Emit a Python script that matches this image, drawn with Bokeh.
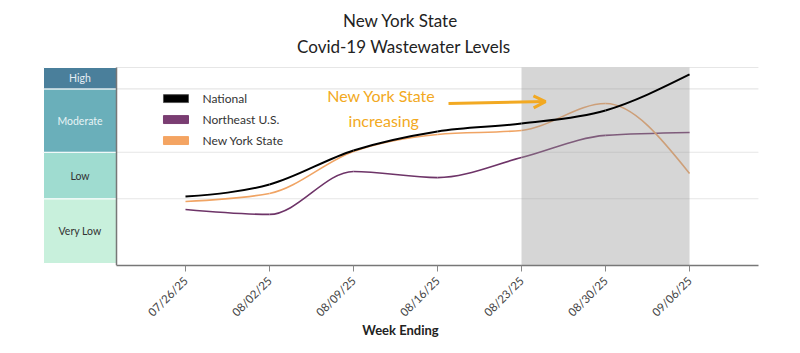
import numpy as np
from bokeh.plotting import figure
from bokeh.models import Range1d, FixedTicker, Arrow, OpenHead
from bokeh.core.properties import value
from bokeh.embed import file_html
from bokeh.resources import INLINE

# ---- data ----
weeks = ["07/26/25", "08/02/25", "08/09/25", "08/16/25", "08/23/25", "08/30/25", "09/06/25"]
national = [3.48, 4.09, 5.81, 6.77, 7.17, 7.83, 9.65]
northeast = [2.83, 2.58, 4.75, 4.44, 5.45, 6.57, 6.72]
nys = [3.23, 3.64, 5.76, 6.62, 6.82, 8.18, 4.65]
level_names = ["Very Low", "Low", "Moderate", "High"]
level_bounds = [0.1, 3.37, 5.72, 8.92, 10.0]
level_colors = ["#c8f0dc", "#9fdcd0", "#6aafba", "#4a7f9b"]
level_text_colors = ["#333333", "#333333", "#e8f4f6", "#e4edf3"]
grid_levels = [3.37, 5.72, 8.92, 10.0]
shade_start, shade_end = 4, 6

xi = list(range(len(weeks)))

X0, X1 = -2.202, 7.321
Y0, Y1 = 0.0, 13.384
AX_L, AX_R = -0.821, 6.82

p = figure(width=800, height=353, output_backend="svg", toolbar_location=None,
           x_range=Range1d(X0, X1), y_range=Range1d(Y0, Y1),
           y_axis_location=None, min_border_left=0, min_border_right=0,
           min_border_top=0, min_border_bottom=88)
p.outline_line_color = None
p.xgrid.visible = False
p.ygrid.visible = False
p.background_fill_color = "white"
p.border_fill_color = "white"

# gridlines
p.segment(x0=[AX_L] * len(grid_levels), y0=grid_levels, x1=[AX_R] * len(grid_levels),
          y1=grid_levels, line_color="#e6e6e6", line_width=1.2)

# level bands
band_l = X0 + (43 / 800) * (X1 - X0)
p.quad(left=[band_l] * 4, right=[AX_L] * 4, bottom=level_bounds[:-1], top=level_bounds[1:],
       fill_color=level_colors, line_color="white", line_width=1)
p.text(x=[(band_l + AX_L) / 2] * 4,
       y=[(level_bounds[i] + level_bounds[i + 1]) / 2 for i in range(4)],
       text=level_names, text_align="center", text_baseline="middle",
       text_font=value("Lato"), text_font_size="10.5px", text_color=level_text_colors)

# left axis line
p.segment(x0=[AX_L], y0=[0], x1=[AX_L], y1=[10.0], line_color="#777777", line_width=1.5)


def monotone_bezier(xs, ys):
    xs = np.asarray(xs, float)
    ys = np.asarray(ys, float)
    n = len(xs)
    h = np.diff(xs)
    s = np.diff(ys) / h
    t = np.zeros(n)
    for i in range(1, n - 1):
        h0, h1 = h[i - 1], h[i]
        s0, s1 = s[i - 1], s[i]
        pp = (s0 * h1 + s1 * h0) / (h0 + h1)
        t[i] = (np.sign(s0) + np.sign(s1)) * min(abs(s0), abs(s1), 0.5 * abs(pp))
    t[0] = (3 * s[0] - t[1]) / 2
    t[-1] = (3 * s[-1] - t[-2]) / 2
    x0 = xs[:-1]
    x1 = xs[1:]
    y0 = ys[:-1]
    y1 = ys[1:]
    cx0 = x0 + h / 3
    cy0 = y0 + h / 3 * t[:-1]
    cx1 = x1 - h / 3
    cy1 = y1 - h / 3 * t[1:]
    return dict(x0=x0, y0=y0, x1=x1, y1=y1, cx0=cx0, cy0=cy0, cx1=cx1, cy1=cy1)


p.bezier(line_color="#6e3468", line_width=1.6, **monotone_bezier(xi, northeast))
p.bezier(line_color="#f0a464", line_width=1.6, **monotone_bezier(xi, nys))

# shaded recent period overlay
p.quad(left=[shade_start], right=[shade_end], bottom=[0], top=[10.0],
       fill_color="#999999", fill_alpha=0.40, line_color=None)

p.bezier(line_color="#000000", line_width=2, **monotone_bezier(xi, national))

# legend
leg_names = ["National", "Northeast U.S.", "New York State"]
leg_colors = ["#000000", "#7a3d72", "#f4a462"]
leg_border = ["#555555", "#7a3d72", "#f4a462"]
leg_y = [8.43, 7.37, 6.31]
p.quad(left=[-0.262] * 3, right=[0.036] * 3, bottom=[v - 0.2 for v in leg_y],
       top=[v + 0.2 for v in leg_y], fill_color=leg_colors, line_color=leg_border, line_width=1)
p.text(x=[0.202] * 3, y=leg_y, text=leg_names, text_baseline="middle",
       text_font=value("Lato"), text_font_size="12px", text_color="#333333")

# annotation
p.text(x=[2.333, 2.36], y=[8.59, 7.32], text=["New York State", "increasing"],
       text_align="center", text_baseline="middle", text_font=value("Lato"),
       text_font_size="16px", text_color="#f2a922")
p.add_layout(Arrow(end=OpenHead(size=12, line_color="#f2a922", line_width=3),
                   x_start=3.131, y_start=8.18, x_end=4.286, y_end=8.28,
                   line_color="#f2a922", line_width=3))

# title
p.text(x=[2.56, 2.60], y=[12.37, 11.06], text=["New York State", "Covid-19 Wastewater Levels"],
       text_align="center", text_baseline="middle", text_font=value("Lato"),
       text_font_size="17px", text_color="#222222")

# x axis
ax = p.xaxis[0]
ax.bounds = (AX_L, AX_R)
ax.ticker = FixedTicker(ticks=xi)
ax.major_label_overrides = {i: w for i, w in enumerate(weeks)}
ax.major_label_orientation = np.pi / 4
ax.major_label_text_font = "Lato"
ax.major_label_text_font_size = "11.5px"
ax.major_label_text_color = "#444444"
ax.major_label_standoff = 7
ax.minor_tick_line_color = None
ax.major_tick_in = 0
ax.major_tick_out = 6
ax.major_tick_line_color = "#888888"
ax.axis_line_color = "#777777"
ax.axis_line_width = 1.5
ax.axis_label = "Week Ending"
ax.axis_label_text_font = "Lato"
ax.axis_label_text_font_style = "bold"
ax.axis_label_text_font_size = "13px"
ax.axis_label_text_color = "#222222"
ax.axis_label_standoff = -4

open("out.html", "w").write(file_html(p, INLINE))
